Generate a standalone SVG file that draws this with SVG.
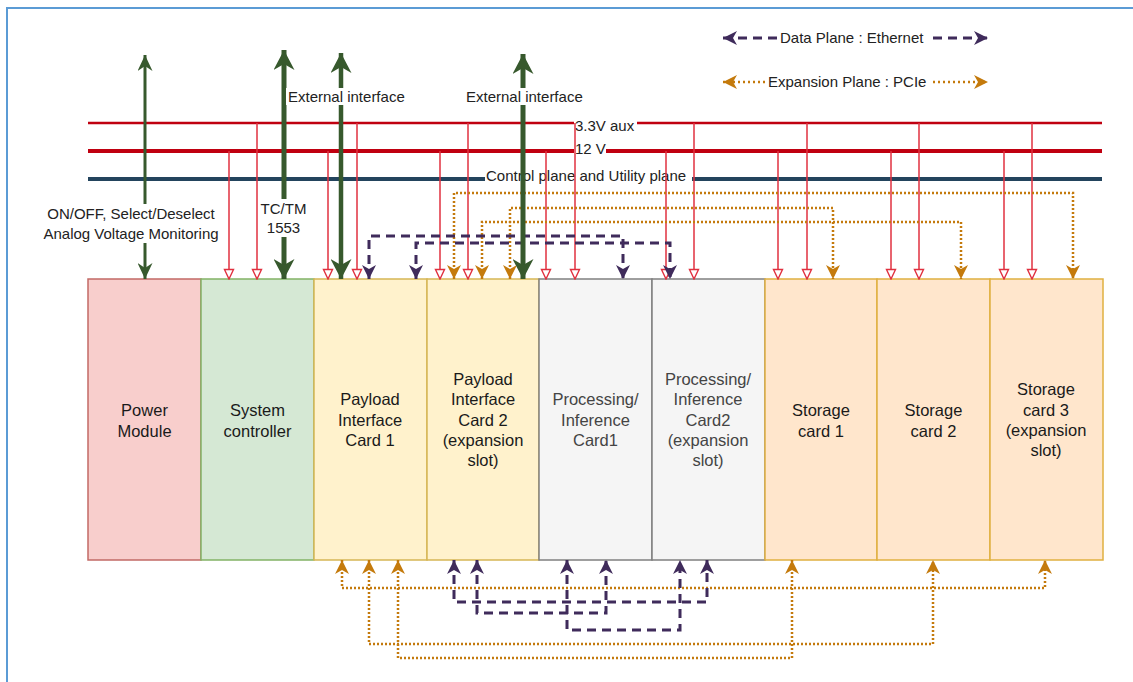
<svg xmlns="http://www.w3.org/2000/svg" width="1133" height="682" viewBox="0 0 1133 682">
<style>
text{font-family:"Liberation Sans",Arial,sans-serif}
.bt{font-size:16.5px;fill:#1a1a1a;text-anchor:middle}
.bt2{font-size:16.5px;fill:#444;text-anchor:middle}
.lb{font-size:15px;fill:#222}
.lbc{font-size:15px;fill:#222;text-anchor:middle}
.drop{stroke:#e0303f;stroke-width:1.5;fill:none;marker-end:url(#mRed)}
.pcie{stroke:#C47A0C;stroke-width:2.5;fill:none;stroke-dasharray:2 2;marker-start:url(#mOr);marker-end:url(#mOr)}
.eth{stroke:#3f2b5b;stroke-width:3;fill:none;stroke-dasharray:9 6;marker-start:url(#mPu);marker-end:url(#mPu)}
.grn{stroke:#37592d;fill:none}
.bg{fill:#fff}
</style>
<defs>
<marker id="mRed" markerUnits="userSpaceOnUse" viewBox="0 0 12 12" markerWidth="12" markerHeight="12" refX="11" refY="6" orient="auto">
<path d="M1.5,1.5 L11,6 L1.5,10.5 Z" fill="#fff" stroke="#e0303f" stroke-width="1.4"/>
</marker>
<marker id="mOr" markerUnits="userSpaceOnUse" viewBox="0 0 15 14" markerWidth="15" markerHeight="14" refX="14" refY="7" orient="auto-start-reverse">
<path d="M0,0 L14,7 L0,14 L4,7 Z" fill="#C47A0C"/>
</marker>
<marker id="mPu" markerUnits="userSpaceOnUse" viewBox="0 0 15 14" markerWidth="15" markerHeight="14" refX="14" refY="7" orient="auto-start-reverse">
<path d="M0,0 L14,7 L0,14 L4,7 Z" fill="#3f2b5b"/>
</marker>
<marker id="mGs" markerUnits="userSpaceOnUse" viewBox="0 0 17 15" markerWidth="17" markerHeight="15" refX="16" refY="7.5" orient="auto-start-reverse">
<path d="M0,0 L16,7.5 L0,15 L5,7.5 Z" fill="#37592d"/>
</marker>
<marker id="mGl" markerUnits="userSpaceOnUse" viewBox="0 0 21 21" markerWidth="21" markerHeight="21" refX="20" refY="10.5" orient="auto-start-reverse">
<path d="M0,0 L20,10.5 L0,21 L6,10.5 Z" fill="#37592d"/>
</marker>
</defs>
<rect x="0" y="0" width="1133" height="682" fill="#fff"/>
<path d="M7,700V8H1150" fill="none" stroke="#5b9bd5" stroke-width="2"/>

<g id="power-module">
<rect x="88" y="279" width="113" height="281" fill="#f8cecc" stroke="#c26a66" stroke-width="1.5"/>
<text class="bt" x="144.5" y="416">Power</text>
<text class="bt" x="144.5" y="437">Module</text>
</g>
<g id="system-controller">
<rect x="201" y="279" width="113" height="281" fill="#d5e8d4" stroke="#82b366" stroke-width="1.5"/>
<text class="bt" x="257.5" y="416">System</text>
<text class="bt" x="257.5" y="437">controller</text>
</g>
<g id="payload-1">
<rect x="314" y="279" width="113" height="281" fill="#fff2cc" stroke="#d6b656" stroke-width="1.5"/>
<text class="bt" x="370" y="405">Payload</text>
<text class="bt" x="370" y="425.5">Interface</text>
<text class="bt" x="370" y="446">Card 1</text>
</g>
<g id="payload-2">
<rect x="427" y="279" width="112" height="281" fill="#fff2cc" stroke="#d6b656" stroke-width="1.5"/>
<text class="bt" x="483" y="385">Payload</text>
<text class="bt" x="483" y="405">Interface</text>
<text class="bt" x="483" y="426">Card 2</text>
<text class="bt" x="483" y="446">(expansion</text>
<text class="bt" x="483" y="466">slot)</text>
</g>
<g id="processing-1">
<rect x="539" y="279" width="113" height="281" fill="#f5f5f5" stroke="#808080" stroke-width="1.5"/>
<text class="bt2" x="595.5" y="405">Processing/</text>
<text class="bt2" x="595.5" y="425.5">Inference</text>
<text class="bt2" x="595.5" y="446">Card1</text>
</g>
<g id="processing-2">
<rect x="652" y="279" width="113" height="281" fill="#f5f5f5" stroke="#808080" stroke-width="1.5"/>
<text class="bt2" x="708" y="385">Processing/</text>
<text class="bt2" x="708" y="405">Inference</text>
<text class="bt2" x="708" y="426">Card2</text>
<text class="bt2" x="708" y="446">(expansion</text>
<text class="bt2" x="708" y="466">slot)</text>
</g>
<g id="storage-1">
<rect x="765" y="279" width="112" height="281" fill="#ffe6cc" stroke="#e0b040" stroke-width="1.5"/>
<text class="bt" x="821" y="416">Storage</text>
<text class="bt" x="821" y="437">card 1</text>
</g>
<g id="storage-2">
<rect x="877" y="279" width="113" height="281" fill="#ffe6cc" stroke="#e0b040" stroke-width="1.5"/>
<text class="bt" x="933.5" y="416">Storage</text>
<text class="bt" x="933.5" y="437">card 2</text>
</g>
<g id="storage-3">
<rect x="990" y="279" width="113" height="281" fill="#ffe6cc" stroke="#e0b040" stroke-width="1.5"/>
<text class="bt" x="1046" y="395">Storage</text>
<text class="bt" x="1046" y="416">card 3</text>
<text class="bt" x="1046" y="436">(expansion</text>
<text class="bt" x="1046" y="456">slot)</text>
</g>

<g id="buses">
<line x1="88" y1="123" x2="1102" y2="123" stroke="#c00010" stroke-width="2.5"/>
<line x1="88" y1="151" x2="1102" y2="151" stroke="#c00010" stroke-width="4"/>
<line x1="88" y1="179" x2="1102" y2="179" stroke="#23445d" stroke-width="4"/>
<rect class="bg" x="574" y="116" width="63" height="15"/>
<text class="lb" x="575" y="131">3.3V aux</text>
<rect class="bg" x="574" y="142" width="32" height="15"/>
<text class="lb" x="575" y="154">12 V</text>
<rect class="bg" x="485" y="167" width="207" height="18"/>
<text class="lb" x="486" y="181">Control plane and Utility plane</text>
</g>

<g id="connectors">
<path class="drop" d="M229,151V279"/>
<path class="drop" d="M328,151V279"/>
<path class="drop" d="M440,151V279"/>
<path class="drop" d="M546,151V279"/>
<path class="drop" d="M666,151V279"/>
<path class="drop" d="M778,151V279"/>
<path class="drop" d="M891,151V279"/>
<path class="drop" d="M1004,151V279"/>
<path class="drop" d="M257,123V279"/>
<path class="drop" d="M357,123V279"/>
<path class="drop" d="M468,123V279"/>
<path class="drop" d="M575,123V279"/>
<path class="drop" d="M694,123V279"/>
<path class="drop" d="M807,123V279"/>
<path class="drop" d="M919,123V279"/>
<path class="drop" d="M1032,123V279"/>
<path class="pcie" d="M454,279V193H1073V279"/>
<path class="pcie" d="M510,279V208H833V279"/>
<path class="pcie" d="M482,279V222H961V279"/>
<path class="pcie" d="M342,560V588H1045V560"/>
<path class="pcie" d="M369,560V644H933V560"/>
<path class="pcie" d="M398,560V658H792V560"/>
<path class="eth" d="M369,279V236H623V279"/>
<path class="eth" d="M416,279V243H670V279"/>
<path class="eth" d="M454,560V602H707V560"/>
<path class="eth" d="M477,560V613H606V560"/>
<path class="eth" d="M567,560V630H680V560"/>
<path class="grn" stroke-width="3" d="M145,55V279" marker-start="url(#mGs)" marker-end="url(#mGs)"/>
<path class="grn" stroke-width="5" d="M284,50V279" marker-start="url(#mGl)" marker-end="url(#mGl)"/>
<path class="grn" stroke-width="4.5" d="M341,53V279" marker-start="url(#mGl)" marker-end="url(#mGl)"/>
<path class="grn" stroke-width="5" d="M523,54V279" marker-start="url(#mGl)" marker-end="url(#mGl)"/>
<rect class="bg" x="286" y="88" width="123" height="17"/>
<text class="lb" x="288" y="102">External interface</text>
<rect class="bg" x="464" y="88" width="123" height="17"/>
<text class="lb" x="466" y="102">External interface</text>
<rect class="bg" x="39" y="204" width="184" height="39"/>
<text class="lbc" x="131" y="219">ON/OFF, Select/Deselect</text>
<text class="lbc" x="131" y="239">Analog Voltage Monitoring</text>
<rect class="bg" x="258" y="199" width="51" height="38"/>
<text class="lbc" x="283.5" y="214">TC/TM</text>
<text class="lbc" x="283.5" y="233">1553</text>
</g>

<g id="legend">
<path d="M723,38H988" stroke="#3f2b5b" stroke-width="3" stroke-dasharray="9 6" fill="none" marker-start="url(#mPu)" marker-end="url(#mPu)"/>
<rect class="bg" x="777" y="29" width="154" height="18"/>
<text class="lb" x="780" y="43">Data Plane : Ethernet</text>
<path d="M723,82H988" stroke="#C47A0C" stroke-width="2.5" stroke-dasharray="2 3" fill="none" marker-start="url(#mOr)" marker-end="url(#mOr)"/>
<rect class="bg" x="766" y="73" width="166" height="18"/>
<text class="lb" x="768" y="87">Expansion Plane : PCIe</text>
</g>
</svg>
